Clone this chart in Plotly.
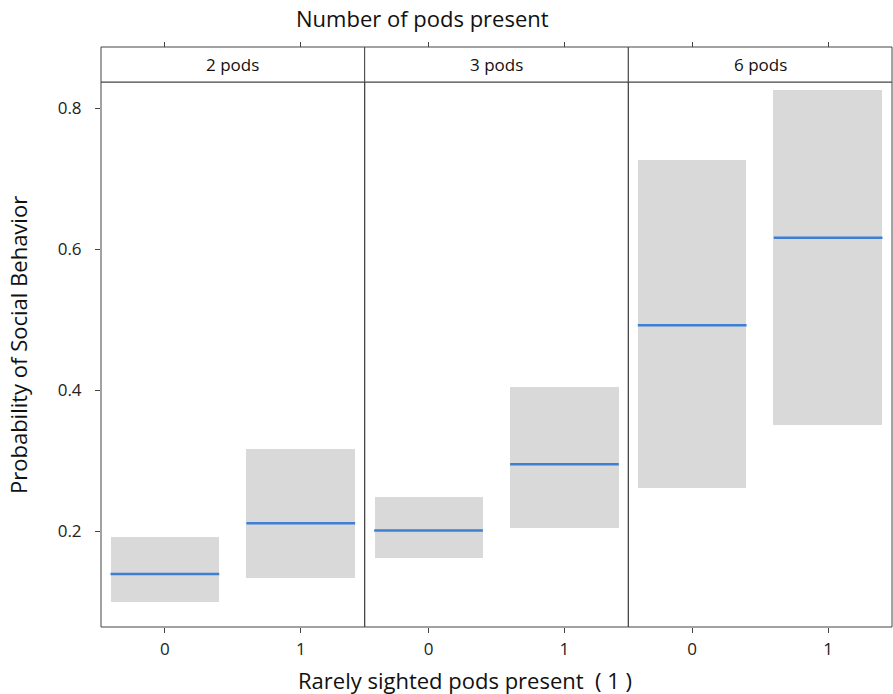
import plotly.graph_objects as go

panels = ["2 pods", "3 pods", "6 pods"]
categories = [0, 1]
medians = [[0.139, 0.211], [0.201, 0.295], [0.492, 0.616]]
lowers = [[0.099, 0.133], [0.162, 0.204], [0.261, 0.350]]
uppers = [[0.191, 0.316], [0.248, 0.404], [0.726, 0.826]]
y_ticks = [0.2, 0.4, 0.6, 0.8]

W, H = 893, 694
ml, mr, mt, mb = 101, 1, 47, 67
strip_h = 35
plot_h = H - mt - mb
ydom_top = (plot_h - strip_h) / plot_h

FONT = "Open Sans, Noto Sans, DejaVu Sans"
BOX = "#d9d9d9"
BLUE = "#3f7fd3"
LINE = "#444444"
HALF = 0.4
TICKFONT = dict(size=17, family=FONT, color="#222222")
TITLEFONT = dict(size=22, family=FONT, color="#111111")

fig = go.Figure()
n = len(panels)
for i in range(n):
    xa = "x" if i == 0 else f"x{i+1}"
    top_xa = f"x{n+i+1}"
    fig.add_trace(go.Bar(
        x=categories,
        y=[u - l for u, l in zip(uppers[i], lowers[i])],
        base=lowers[i],
        width=2 * HALF,
        marker=dict(color=BOX, line=dict(width=0)),
        xaxis=xa, yaxis="y", showlegend=False, hoverinfo="skip"))
    mx, my = [], []
    for c, m in zip(categories, medians[i]):
        mx += [c - HALF, c + HALF, None]
        my += [m, m, None]
    fig.add_trace(go.Scatter(
        x=mx, y=my, mode="lines", line=dict(color=BLUE, width=2.5),
        xaxis=xa, yaxis="y", showlegend=False, hoverinfo="skip"))
    # invisible trace to carry the top tick axis
    fig.add_trace(go.Scatter(
        x=categories, y=medians[i], mode="markers", marker=dict(opacity=0),
        xaxis=top_xa, yaxis="y", showlegend=False, hoverinfo="skip"))

layout = dict(
    width=W, height=H,
    margin=dict(l=ml, r=mr, t=mt, b=mb, autoexpand=False),
    plot_bgcolor="white", paper_bgcolor="white",
    bargap=0, barmode="overlay",
    font=dict(family=FONT, color="#222222", size=15),
    yaxis=dict(domain=[0, ydom_top], range=[0.064, 0.837],
               tickvals=y_ticks, ticktext=[f"{v:.1f}" for v in y_ticks],
               ticks="outside", ticklen=5, tickcolor=LINE,
               ticklabelstandoff=10,
               showline=False, showgrid=False, zeroline=False,
               tickfont=TICKFONT),
)
pw = 1.0 / n
for i in range(n):
    key = "xaxis" if i == 0 else f"xaxis{i+1}"
    layout[key] = dict(
        domain=[i * pw, (i + 1) * pw], anchor="y",
        range=[-0.47, 1.47], tickvals=categories,
        ticktext=[str(c) for c in categories],
        ticks="outside", ticklen=5, tickcolor=LINE,
        ticklabelstandoff=2,
        showline=False, showgrid=False, zeroline=False,
        tickfont=TICKFONT)
    tkey = f"xaxis{n+i+1}"
    layout[tkey] = dict(
        domain=[i * pw, (i + 1) * pw], anchor="free", position=1,
        side="top", overlaying=("x" if i == 0 else f"x{i+1}"),
        range=[-0.47, 1.47], tickvals=categories, showticklabels=False,
        ticks="outside", ticklen=5, tickcolor=LINE,
        showline=False, showgrid=False, zeroline=False)

shapes = []
annotations = []
for i, name in enumerate(panels):
    shapes.append(dict(type="rect", xref="paper", yref="paper",
                       x0=i * pw, x1=(i + 1) * pw, y0=0, y1=ydom_top,
                       line=dict(color=LINE, width=1), layer="above"))
    shapes.append(dict(type="rect", xref="paper", yref="paper",
                       x0=i * pw, x1=(i + 1) * pw, y0=ydom_top, y1=1,
                       fillcolor="white", line=dict(color=LINE, width=1)))
    annotations.append(dict(text=name, xref="paper", yref="paper",
                            x=(i + 0.5) * pw, y=(1 + ydom_top) / 2,
                            xanchor="center", yanchor="middle",
                            showarrow=False, font=dict(size=17, family=FONT, color="#111111")))

pwid = W - ml - mr
annotations += [
    dict(text="Number of pods present", xref="paper", yref="paper",
         x=(422 - ml) / pwid, y=(H - mb - 18) / plot_h, showarrow=False,
         xanchor="center", yanchor="middle", font=TITLEFONT),
    dict(text="Rarely sighted pods present  ( 1 )", xref="paper", yref="paper",
         x=(465 - ml) / pwid, y=(H - mb - 680) / plot_h, showarrow=False,
         xanchor="center", yanchor="middle", font=TITLEFONT),
    dict(text="Probability of Social Behavior", xref="paper", yref="paper",
         x=(18 - ml) / pwid, y=(H - mb - 345) / plot_h, showarrow=False,
         xanchor="center", yanchor="middle",
         textangle=-90, font=TITLEFONT),
]
layout["shapes"] = shapes
layout["annotations"] = annotations
fig.update_layout(**layout)

fig.write_html("out.html", config={"displayModeBar": False},
               post_script="document.body.style.margin='0';document.body.style.overflow='hidden';")
